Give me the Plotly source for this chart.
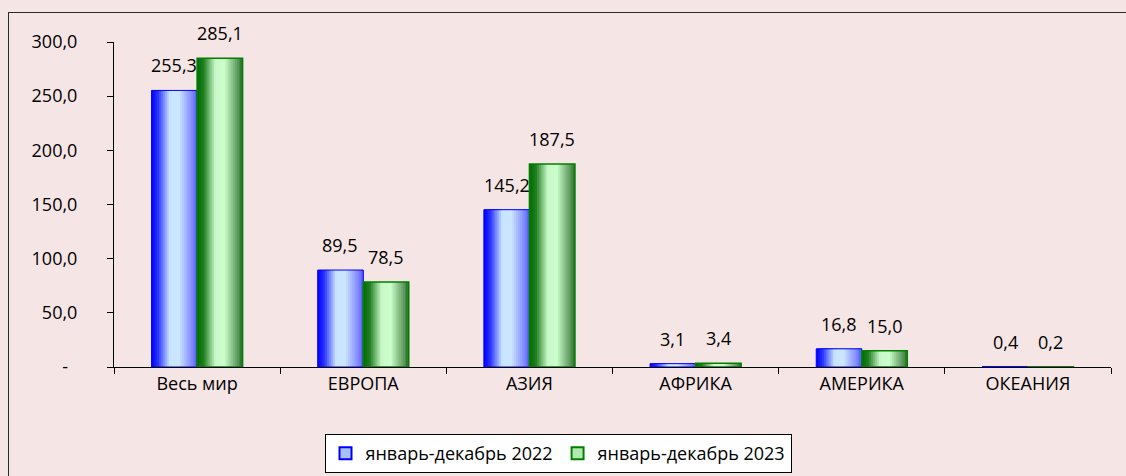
import plotly.graph_objects as go

categories = ["Весь мир", "ЕВРОПА", "АЗИЯ", "АФРИКА", "АМЕРИКА", "ОКЕАНИЯ"]
series_names = ["январь-декабрь 2022", "январь-декабрь 2023"]
values_2022 = [255.3, 89.5, 145.2, 3.1, 16.8, 0.4]
values_2023 = [285.1, 78.5, 187.5, 3.4, 15.0, 0.2]
y_tickvals = [0, 50, 100, 150, 200, 250, 300]
y_ticktext = ["-\u00a0\u00a0", "50,0", "100,0", "150,0", "200,0", "250,0", "300,0"]

FONT = "Open Sans"
FS = 18
BG = "#F6E5E5"

W, H = 1126, 476
ML, MR, MT, MB = 114, 15, 42, 109
PW = W - ML - MR
PH = H - MT - MB

BAR_W = 0.274
N_STRIPS = 24

blue_stops = [(0.0, (0, 0, 255)), (0.14, (40, 50, 255)), (0.40, (200, 228, 255)),
              (0.60, (204, 230, 255)), (0.88, (130, 140, 255)), (1.0, (90, 90, 255))]
green_stops = [(0.0, (0, 110, 0)), (0.14, (30, 125, 30)), (0.40, (200, 248, 200)),
               (0.60, (204, 255, 204)), (0.90, (90, 150, 90)), (1.0, (40, 115, 40))]


def interp(stops, t):
    for (t0, c0), (t1, c1) in zip(stops[:-1], stops[1:]):
        if t0 <= t <= t1:
            f = (t - t0) / (t1 - t0) if t1 > t0 else 0
            c = [round(a + (b - a) * f) for a, b in zip(c0, c1)]
            return "rgb({},{},{})".format(*c)
    c = stops[-1][1]
    return "rgb({},{},{})".format(*c)


fig = go.Figure()

series = [
    (values_2022, -BAR_W, blue_stops, "#0000FF", 1.0, "#A8C0FF"),
    (values_2023, 0.0, green_stops, "#008000", 1.5, "#B0E8B0"),
]

for vals, off, stops, edge, lw, legcol in series:
    for k in range(N_STRIPS):
        t = (k + 0.5) / N_STRIPS
        fig.add_trace(go.Bar(
            x=categories, y=vals,
            offset=off + k * BAR_W / N_STRIPS,
            width=BAR_W - k * BAR_W / N_STRIPS,
            marker=dict(color=interp(stops, t), line=dict(width=0)),
            showlegend=False, hoverinfo="skip",
        ))
    fig.add_trace(go.Bar(
        x=categories, y=vals, offset=off, width=BAR_W,
        marker=dict(color="rgba(0,0,0,0)", line=dict(color=edge, width=lw)),
        showlegend=False, hoverinfo="skip",
    ))

# legend-only entries
for name, (vals, off, stops, edge, lw, legcol) in zip(series_names, series):
    fig.add_trace(go.Bar(
        x=categories, y=[None] * len(categories), name=name,
        marker=dict(color=legcol, line=dict(color=edge, width=1.5)),
        showlegend=True,
    ))

# data labels
cat_px = PW / len(categories)
for vals, off in ((values_2022, -BAR_W), (values_2023, 0.0)):
    for c, v in zip(categories, vals):
        fig.add_annotation(
            x=c, y=v, xref="x", yref="y",
            text=f"{v:.1f}".replace(".", ","),
            showarrow=False, xanchor="center", yanchor="middle",
            xshift=(off + BAR_W / 2) * cat_px, yshift=25,
            font=dict(family=FONT, size=FS, color="#000"),
        )

fig.update_layout(
    width=W, height=H,
    margin=dict(l=ML, r=MR, t=MT, b=MB, pad=0),
    paper_bgcolor=BG, plot_bgcolor=BG,
    barmode="overlay",
    font=dict(family=FONT, size=FS, color="#000"),
    showlegend=True,
    legend=dict(
        orientation="h", xref="container", yref="container",
        x=558 / W, xanchor="center",
        y=1 - 434 / H, yanchor="top",
        bgcolor="#FFFFFF", bordercolor="#000000", borderwidth=1,
        font=dict(family=FONT, size=FS, color="#000"),
        itemsizing="constant",
    ),
    xaxis=dict(
        type="category", showgrid=False, zeroline=False,
        showline=True, linecolor="#000", linewidth=1,
        ticks="outside", tickson="boundaries", ticklen=6, tickcolor="#000",
        range=[-0.5, len(categories) - 0.5],
        tickfont=dict(family=FONT, size=FS, color="#000"),
    ),
    yaxis=dict(
        range=[0, 300], showgrid=False, zeroline=False,
        showline=True, linecolor="#000", linewidth=1,
        ticks="outside", ticklen=6, tickcolor="#000",
        tickvals=y_tickvals, ticktext=y_ticktext,
        ticklabelstandoff=26,
        tickfont=dict(family=FONT, size=FS, color="#000"),
    ),
)

# outer chart frame (top and left edges; right/bottom edges lie outside the picture)
frame_js = (
    "document.body.style.margin='0';document.body.style.overflow='hidden';"
    "document.documentElement.style.overflow='hidden';"
    "var f=document.createElement('div');"
    "f.style.cssText='position:fixed;left:8px;top:12px;right:-20px;bottom:-20px;"
    "border-top:1.5px solid #2a2a2a;border-left:1.5px solid #2a2a2a;"
    "pointer-events:none;z-index:10;';"
    "document.body.appendChild(f);"
)

fig.write_html(
    "out.html",
    config={"displayModeBar": False},
    post_script=frame_js,
)
